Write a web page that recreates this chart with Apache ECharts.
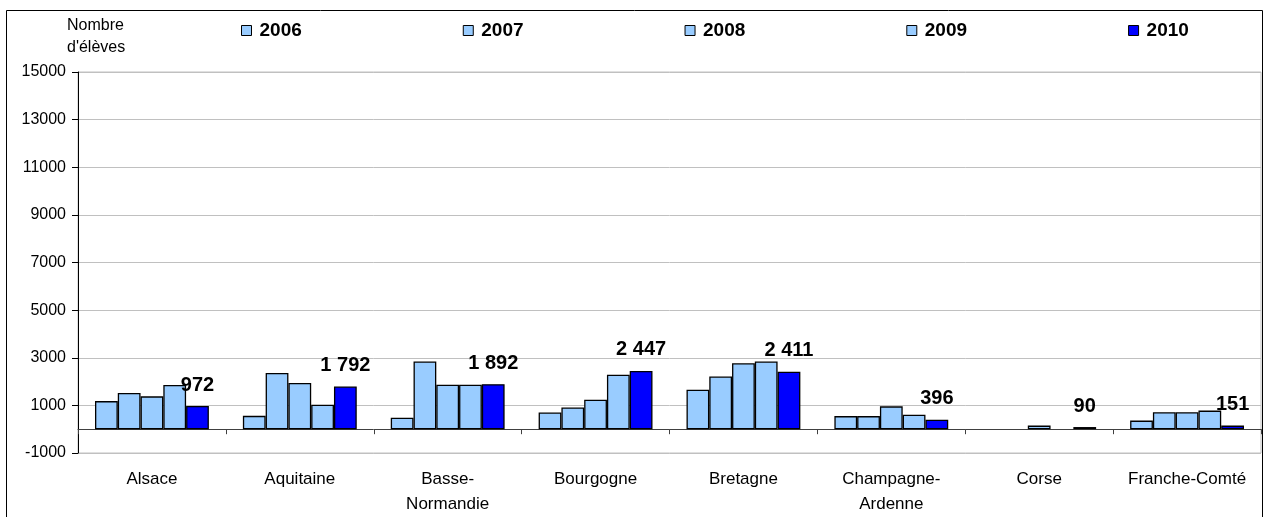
<!DOCTYPE html>
<html>
<head>
<meta charset="utf-8">
<script src="https://cdn.jsdelivr.net/npm/echarts@6/dist/echarts.min.js"></script>
<style>
html,body{margin:0;padding:0;background:#fff;}
#chart{width:1263px;height:517px;}
</style>
</head>
<body>
<div id="chart"></div>
<script>
var categories = ['Alsace', 'Aquitaine', 'Basse-\nNormandie', 'Bourgogne', 'Bretagne', 'Champagne-\nArdenne', 'Corse', 'Franche-Comté'];
var seriesNames = ['2006', '2007', '2008', '2009', '2010'];
var v2006 = [1180, 560, 480, 700, 1660, 550, '-', 360];
var v2007 = [1520, 2360, 2840, 910, 2210, 550, '-', 710];
var v2008 = [1380, 1940, 1870, 1240, 2770, 960, 150, 710];
var v2009 = [1860, 1030, 1870, 2290, 2840, 610, '-', 780];
var v2010 = [972, 1792, 1892, 2447, 2411, 396, 90, 151];
var yMin = -1000, yMax = 15000, yStep = 2000;
var axisTitle = ['Nombre', "d'élèves"];

var FONT = 'Liberation Sans, Arial, sans-serif';
var light = '#99CCFF', dark = '#0000FF';
var values = [v2006, v2007, v2008, v2009, v2010];
var colors = [light, light, light, light, dark];

function fmt(v) {
  return String(v).replace(/\B(?=(\d{3})+(?!\d))/g, ' ');
}

var series = values.map(function (arr, i) {
  var s = {
    name: seriesNames[i],
    type: 'bar',
    xAxisIndex: 0,
    data: arr,
    barGap: '0%',
    barCategoryGap: '23%',
    itemStyle: { color: colors[i], borderColor: '#000', borderWidth: 1.3 },
    emphasis: { disabled: true },
    animation: false
  };
  if (i === 4) {
    s.label = {
      show: true, position: 'top', distance: 11,
      fontFamily: FONT, fontWeight: 'bold', fontSize: 20, color: '#000',
      formatter: function (p) { return fmt(p.value); }
    };
  }
  return s;
});

var chart = echarts.init(document.getElementById('chart'), null, { renderer: 'canvas' });
chart.setOption({
  backgroundColor: '#fff',
  animation: false,
  textStyle: { fontFamily: FONT },
  legend: {
    left: 236, top: 16,
    itemWidth: 10, itemHeight: 10, itemGap: 161,
    icon: 'rect',
    itemStyle: { borderColor: '#000', borderWidth: 1 },
    textStyle: { fontFamily: FONT, fontWeight: 'bold', fontSize: 19, color: '#000', padding: [0, 0, 0, 3] },
    data: seriesNames,
    selectedMode: false
  },
  grid: {
    left: 78, right: 2, top: 72, bottom: 63,
    show: true, borderColor: '#c0c0c0', borderWidth: 1, backgroundColor: 'transparent'
  },
  graphic: [
    {
      type: 'rect', silent: true, z: 100,
      shape: { x: 6.5, y: 10.5, width: 1256, height: 520 },
      style: { fill: 'none', stroke: '#000', lineWidth: 1 }
    },
    {
      type: 'text', silent: true, left: 67, top: 15,
      style: { text: axisTitle.join('\n'), fontFamily: FONT, fontSize: 16, lineHeight: 22, fill: '#000' }
    }
  ],
  xAxis: [
    {
      type: 'category', data: categories, position: 'bottom',
      axisLine: { onZero: true, lineStyle: { color: '#404040', width: 1 } },
      axisTick: { show: true, length: 5, lineStyle: { color: '#404040' } },
      axisLabel: { show: false },
      splitLine: { show: false }
    },
    {
      type: 'category', data: categories, position: 'bottom',
      axisLine: { show: false, onZero: false },
      axisTick: { show: false },
      axisLabel: { show: true, interval: 0, margin: 14, fontFamily: FONT, fontSize: 17, lineHeight: 25, color: '#000' },
      splitLine: { show: false }
    }
  ],
  yAxis: {
    type: 'value', min: yMin, max: yMax, interval: yStep,
    axisLine: { show: true, lineStyle: { color: '#000' } },
    axisTick: { show: true, length: 6, lineStyle: { color: '#000' } },
    axisLabel: {
      fontFamily: FONT, fontSize: 16, color: '#000', margin: 12,
      formatter: function (v) { return String(v); }
    },
    splitLine: { show: true, lineStyle: { color: '#c0c0c0', width: 1 } }
  },
  series: series
});
</script>
</body>
</html>
